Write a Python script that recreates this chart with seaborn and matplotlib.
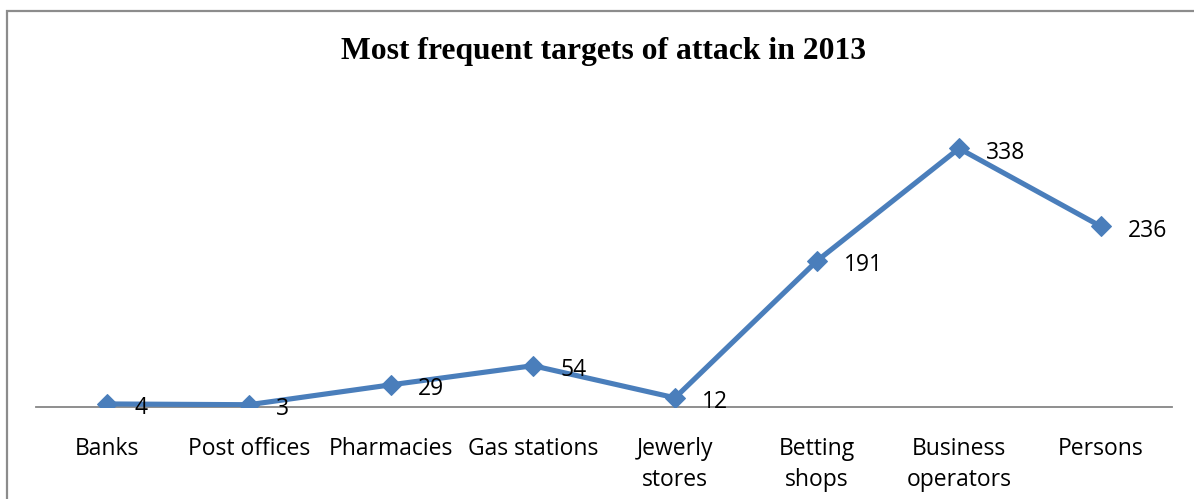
import matplotlib
matplotlib.use("Agg")
import matplotlib.pyplot as plt
from matplotlib.patches import Rectangle
import seaborn as sns
import pandas as pd

# Attack counts per target type, 2013
categories = ["Banks", "Post offices", "Pharmacies", "Gas stations",
              "Jewerly\nstores", "Betting\nshops", "Business\noperators", "Persons"]
attacks = [4, 3, 29, 54, 12, 191, 338, 236]
title = "Most frequent targets of attack in 2013"

line_color = "#4A7EBB"
axis_gray = "#868686"

sns.set_theme(style="white")
plt.rcParams["font.family"] = ["Open Sans", "DejaVu Sans"]

df = pd.DataFrame({"target": range(len(categories)), "attacks": attacks})

fig = plt.figure(figsize=(11.94, 4.99), dpi=100)
ax = fig.add_axes([36 / 1194, 92 / 499, (1172 - 36) / 1194, (407 - 101) / 499])

sns.lineplot(data=df, x="target", y="attacks", ax=ax, sort=False,
             color=line_color, linewidth=3.7, marker="D", markersize=10.5,
             markeredgecolor=line_color, zorder=3)

# data labels to the right of each point
for i, v in enumerate(attacks):
    ax.annotate(str(v), (i, v), xytext=(19.5, -3), textcoords="offset points",
                ha="left", va="center", fontsize=16.5, color="black",
                annotation_clip=False, zorder=4)

ax.set_xlim(-0.5, len(categories) - 0.5)
ax.set_ylim(0, 400)
ax.set_xticks(range(len(categories)))
ax.set_xticklabels(categories, fontsize=16.5, linespacing=1.4, color="black")
ax.set_yticks([])
ax.tick_params(axis="x", length=0, pad=21.5)
ax.set_xlabel("")
ax.set_ylabel("")

for side in ["top", "right", "left"]:
    ax.spines[side].set_visible(False)
ax.spines["bottom"].set_color(axis_gray)
ax.spines["bottom"].set_linewidth(1.3)
ax.spines["bottom"].set_zorder(1)

fig.text(604 / 1194, 1 - 51 / 499, title, ha="center", va="center",
         fontsize=22.8, fontweight="bold", color="black",
         family=["Liberation Serif", "DejaVu Serif"])

# chart frame (extends past the right and bottom edges)
frame = Rectangle((7 / 1194, -0.05), 1.1, 1 - 11 / 499 + 0.05,
                  transform=fig.transFigure, fill=False,
                  edgecolor="#8C8C8C", linewidth=1.6, clip_on=False)
fig.patches.append(frame)

fig.savefig("out.png", dpi=100)
